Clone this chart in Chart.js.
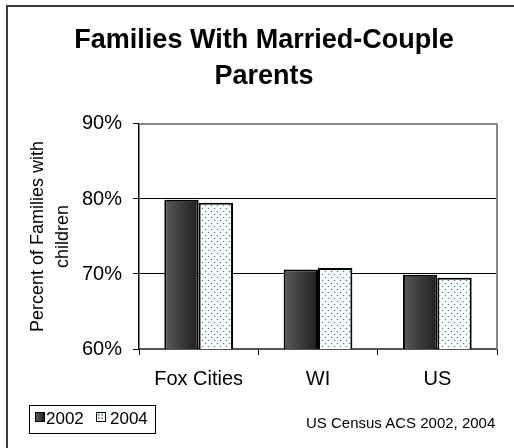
<!DOCTYPE html>
<html>
<head>
<meta charset="utf-8">
<script src="https://cdn.jsdelivr.net/npm/chart.js@4"></script>
<style>
  html, body { margin:0; padding:0; background:#fff; width:514px; height:448px; overflow:hidden; }
  #frame { position:absolute; left:6px; top:5px; width:700px; height:700px; border-left:2px solid #3a3a3a; border-top:2px solid #3a3a3a; }
  #c { position:absolute; left:0; top:0; }
  .txt { position:absolute; font-family:"Liberation Sans", Arial, sans-serif; color:#000; white-space:nowrap; }
  #legend { position:absolute; left:29px; top:405px; width:127px; height:29px; border:1px solid #000; box-sizing:border-box; background:#fff; }
  .sw { position:absolute; width:10px; height:10px; box-sizing:border-box; border:1.5px solid #000; }
  #sw1 { left:35px; top:412px; background:linear-gradient(to right,#5a5a5a,#1e1e1e); }
  #sw2 { left:96px; top:412px; background:#fff radial-gradient(circle, #2e9a9a 0.8px, transparent 1.2px) 0 0/3.5px 3.5px; }
</style>
</head>
<body>
<div id="frame"></div>
<canvas id="c" width="514" height="448"></canvas>
<div id="legend"></div>
<div class="sw" id="sw1"></div>
<span class="txt" id="lt1" style="left:46px;top:410px;font-size:17px;line-height:17px;"></span>
<div class="sw" id="sw2"></div>
<span class="txt" id="lt2" style="left:110px;top:410px;font-size:17px;line-height:17px;"></span>
<span class="txt" id="src" style="left:306px;top:415px;font-size:15px;line-height:15px;"></span>
<script>
const categories = ['Fox Cities', 'WI', 'US'];
const seriesNames = ['2002', '2004'];
const values2002 = [79.9, 70.6, 69.9];
const values2004 = [79.5, 70.8, 69.5];
const yMin = 60, yMax = 90, yStep = 10;
const titleLines = ['Families With Married-Couple', 'Parents'];
const yTitleLines = ['Percent of Families with', 'children'];
const sourceText = 'US Census ACS 2002, 2004';

document.getElementById('lt1').textContent = seriesNames[0];
document.getElementById('lt2').textContent = seriesNames[1];
document.getElementById('src').textContent = sourceText;

const FONT = '"Liberation Sans", Arial, sans-serif';
Chart.defaults.font.family = FONT;
Chart.defaults.color = '#000';

const catPct = 0.576;

// dotted pattern for 2004
const pc = document.createElement('canvas');
pc.width = 6; pc.height = 6;
const pctx = pc.getContext('2d');
pctx.fillStyle = '#fff'; pctx.fillRect(0, 0, 6, 6);
pctx.fillStyle = '#2e9a9a';
pctx.beginPath(); pctx.arc(1.5, 1.5, 0.8, 0, Math.PI * 2); pctx.fill();
pctx.beginPath(); pctx.arc(4.5, 4.5, 0.8, 0, Math.PI * 2); pctx.fill();
const ctx = document.getElementById('c').getContext('2d');
const dotPattern = ctx.createPattern(pc, 'repeat');

function darkGradient(c) {
  const chart = c.chart;
  const xs = chart.scales && chart.scales.x;
  if (!xs || !chart.chartArea || c.type !== 'data') return '#333';
  const center = xs.getPixelForValue(c.dataIndex);
  const cw = xs.width / categories.length;
  const left = center - cw * catPct / 2;
  const g = chart.ctx.createLinearGradient(left, 0, center, 0);
  g.addColorStop(0, '#5a5a5a');
  g.addColorStop(1, '#1e1e1e');
  return g;
}

const framePlugin = {
  id: 'plotFrame',
  beforeDatasetsDraw(chart) {
    const a = chart.chartArea, c = chart.ctx;
    c.save();
    c.strokeStyle = '#888';
    c.lineWidth = 2;
    c.beginPath();
    c.moveTo(a.left, a.top);
    c.lineTo(a.right, a.top);
    c.lineTo(a.right, a.bottom);
    c.stroke();
    c.restore();
  }
};

new Chart(ctx, {
  type: 'bar',
  data: {
    labels: categories,
    datasets: [
      { label: seriesNames[0], data: values2002, backgroundColor: darkGradient, borderColor: '#000', borderWidth: 2, borderSkipped: false, categoryPercentage: catPct, barPercentage: 1 },
      { label: seriesNames[1], data: values2004, backgroundColor: dotPattern, borderColor: '#000', borderWidth: 2, borderSkipped: false, categoryPercentage: catPct, barPercentage: 1 }
    ]
  },
  options: {
    responsive: false,
    animation: false,
    devicePixelRatio: 1,
    layout: { padding: { left: 31, right: 17, top: 0, bottom: 57 } },
    plugins: {
      legend: { display: false },
      tooltip: { enabled: false },
      title: {
        display: true,
        text: titleLines,
        color: '#000',
        font: { size: 27, weight: 'bold', lineHeight: 1.32 },
        padding: { top: 23, bottom: 29.7 }
      }
    },
    scales: {
      x: {
        grid: { display: true, drawOnChartArea: false, drawTicks: true, tickLength: 6, color: '#000', offset: true },
        border: { display: true, color: '#555', width: 2 },
        ticks: { font: { size: 20 }, padding: 12, color: '#000', maxRotation: 0 },
        afterFit(s) { s.height = 42; }
      },
      y: {
        min: yMin, max: yMax,
        ticks: { stepSize: yStep, font: { size: 20 }, padding: 11, color: '#000', callback: v => v + '%' },
        grid: { color: c => (c.tick && c.tick.value === yMax) ? '#888' : '#000', tickColor: '#000', tickLength: 6, lineWidth: 1 },
        border: { display: true, color: '#000', width: 1.5 },
        title: {
          display: true,
          text: yTitleLines,
          color: '#000',
          font: { size: 18, lineHeight: 25 / 18 },
          padding: { top: -5.5, bottom: 0 }
        },
        afterFit(s) { s.width = 108; }
      }
    }
  },
  plugins: [framePlugin]
});
</script>
</body>
</html>
